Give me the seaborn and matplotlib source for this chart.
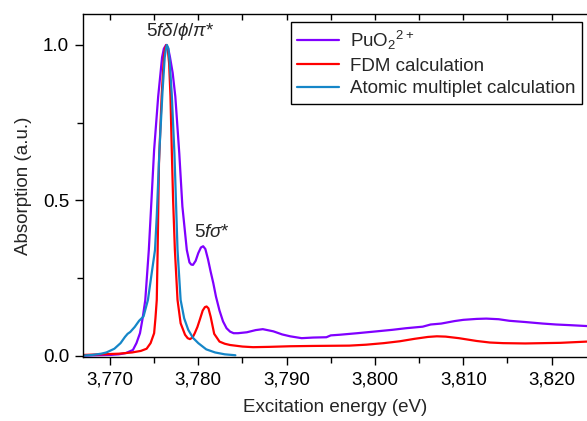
import numpy as np
import pandas as pd
import seaborn as sns
import matplotlib.pyplot as plt
from matplotlib.ticker import MultipleLocator, FuncFormatter

# PuO2 2+ experimental spectrum
pu_energy = [3767.0, 3768.5, 3770.0, 3771.0, 3771.8, 3772.6, 3773.0, 3773.4, 3773.7, 3774.0,
             3774.4, 3774.7, 3775.0, 3775.46, 3775.9, 3776.1, 3776.35, 3776.6, 3776.8, 3777.1,
             3777.4, 3777.85, 3778.2, 3778.7, 3779.0, 3779.2, 3779.4, 3779.7, 3780.0, 3780.3,
             3780.55, 3780.8, 3781.1, 3781.4, 3781.7, 3782.0, 3782.4, 3782.8, 3783.2, 3783.6,
             3784.0, 3784.5, 3785.5, 3786.5, 3787.3, 3788.5, 3789.5, 3790.4, 3791.7, 3793.0,
             3794.5, 3795.0, 3796.0, 3798.0, 3800.2, 3802.0, 3803.5, 3805.4, 3806.3, 3807.5,
             3809.0, 3810.0, 3811.5, 3812.6, 3814.0, 3815.2, 3817.0, 3819.0, 3820.5, 3822.0,
             3824.0]
pu_abs = [0.000, 0.001, 0.002, 0.004, 0.008, 0.018, 0.040, 0.072, 0.120, 0.179,
          0.340, 0.500, 0.662, 0.834, 0.960, 0.988, 1.000, 0.988, 0.960, 0.910,
          0.834, 0.650, 0.480, 0.340, 0.300, 0.293, 0.292, 0.305, 0.330, 0.348,
          0.352, 0.343, 0.310, 0.270, 0.233, 0.190, 0.145, 0.110, 0.088, 0.077,
          0.072, 0.072, 0.075, 0.082, 0.085, 0.078, 0.068, 0.062, 0.056, 0.058,
          0.059, 0.065, 0.067, 0.072, 0.078, 0.083, 0.088, 0.093, 0.100, 0.103,
          0.111, 0.115, 0.118, 0.119, 0.117, 0.112, 0.108, 0.103, 0.100, 0.098,
          0.095]

# FDM calculation
fdm_energy = [3767.0, 3769.0, 3771.0, 3772.5, 3773.5, 3774.15, 3774.6, 3775.0, 3775.15, 3775.3,
              3775.4, 3775.55, 3775.85, 3776.1, 3776.25, 3776.4, 3776.55, 3776.7, 3776.85, 3777.0,
              3777.15, 3777.35, 3777.65, 3778.0, 3778.5, 3778.8, 3779.05, 3779.35, 3779.6, 3779.9,
              3780.2, 3780.5, 3780.75, 3780.94, 3781.15, 3781.4, 3781.8, 3782.4, 3783.0, 3783.6,
              3785.0, 3786.2, 3788.0, 3790.4, 3793.0, 3797.1, 3799.0, 3801.0, 3802.8, 3804.5,
              3806.0, 3807.0, 3808.0, 3809.5, 3811.5, 3813.0, 3814.5, 3817.0, 3819.0, 3821.0,
              3824.0]
fdm_abs = [0.002, 0.004, 0.006, 0.010, 0.015, 0.022, 0.040, 0.072, 0.120, 0.179,
           0.340, 0.620, 0.834, 0.960, 0.990, 1.000, 0.985, 0.940, 0.834, 0.660,
           0.500, 0.340, 0.179, 0.104, 0.067, 0.056, 0.053, 0.058, 0.072, 0.092,
           0.118, 0.145, 0.156, 0.158, 0.152, 0.125, 0.070, 0.045, 0.038, 0.034,
           0.029, 0.027, 0.028, 0.030, 0.031, 0.032, 0.035, 0.040, 0.046, 0.054,
           0.060, 0.062, 0.061, 0.056, 0.047, 0.042, 0.040, 0.039, 0.040, 0.041,
           0.045]

# Atomic multiplet calculation
am_energy = [3767.0, 3768.0, 3769.0, 3769.6, 3770.5, 3771.2, 3771.7, 3772.0, 3772.3, 3772.8,
             3773.3, 3773.8, 3774.3, 3774.7, 3775.1, 3775.3, 3775.6, 3775.95, 3776.2, 3776.35,
             3776.45, 3776.6, 3776.75, 3777.0, 3777.3, 3777.65, 3778.0, 3778.4, 3778.86, 3779.4,
             3780.0, 3780.9, 3781.9, 3783.0, 3784.2]
am_abs = [0.000, 0.002, 0.006, 0.010, 0.022, 0.040, 0.060, 0.070, 0.076, 0.092,
          0.112, 0.126, 0.179, 0.260, 0.340, 0.450, 0.660, 0.850, 0.960, 0.990,
          1.000, 0.990, 0.950, 0.840, 0.650, 0.340, 0.179, 0.120, 0.083, 0.057,
          0.040, 0.020, 0.010, 0.004, 0.001]

sns.set_style('ticks')
plt.rcParams['font.family'] = ['Liberation Sans', 'DejaVu Sans']
plt.rcParams['mathtext.fontset'] = 'custom'
plt.rcParams['mathtext.rm'] = 'Liberation Sans'
plt.rcParams['mathtext.it'] = 'Liberation Sans:italic'

fs = 13.5

fig = plt.figure(figsize=(5.87, 4.21), dpi=100)
ax = fig.add_axes([0.1414, 0.151, 0.8586, 0.816])

sns.lineplot(x=pu_energy, y=pu_abs, ax=ax, color='#8000FF', lw=1.6,
             label=r'PuO$_2$$^{2+}$')
sns.lineplot(x=fdm_energy, y=fdm_abs, ax=ax, color='#FF0000', lw=1.6,
             label='FDM calculation')
sns.lineplot(x=am_energy, y=am_abs, ax=ax, color='#1586C8', lw=1.6,
             label='Atomic multiplet calculation')

ax.set_xlim(3766.95, 3824)
ax.set_ylim(-0.006, 1.1)

ax.xaxis.set_major_locator(MultipleLocator(10))
ax.xaxis.set_minor_locator(MultipleLocator(5))
ax.xaxis.set_major_formatter(FuncFormatter(lambda v, p: f'{int(round(v)):,}'))
ax.yaxis.set_major_locator(MultipleLocator(0.5))
ax.yaxis.set_minor_locator(MultipleLocator(0.25))
ax.yaxis.set_major_formatter(FuncFormatter(lambda v, p: f'{v:.1f}'))

ax.tick_params(axis='both', which='major', direction='out', length=6, width=1,
               labelsize=fs, color='black', labelcolor='black', pad=4)
ax.tick_params(axis='both', which='minor', direction='out', length=4, width=1,
               color='black')
ax.tick_params(axis='x', which='both', top=True, labeltop=False)

# top ticks point inward
for t in ax.xaxis.get_major_ticks() + ax.xaxis.get_minor_ticks():
    t.tick2line.set_marker(3)
    t.tick2line.set_markersize(4)

ax.spines['right'].set_visible(False)
for s in ['left', 'bottom', 'top']:
    ax.spines[s].set_linewidth(1)
    ax.spines[s].set_color('black')

ax.set_xlabel('Excitation energy (eV)', fontsize=fs, labelpad=8)
ax.set_ylabel('Absorption (a.u.)', fontsize=fs, labelpad=8)

ax.text(3778.0, 1.008, r'5$f\delta/\phi/\pi$*', fontsize=fs, ha='center', va='bottom')
ax.text(3781.5, 0.37, r'5$f\sigma$*', fontsize=fs, ha='center', va='bottom')

leg = ax.legend(loc='upper right', bbox_to_anchor=(0.997, 0.987), fontsize=fs,
                frameon=True, fancybox=False, framealpha=1, edgecolor='black',
                handlelength=2.25, borderpad=0.35, labelspacing=0.3, handletextpad=0.55,
                borderaxespad=0.2)
leg.get_frame().set_linewidth(1)

fig.savefig('out.png', dpi=100)
